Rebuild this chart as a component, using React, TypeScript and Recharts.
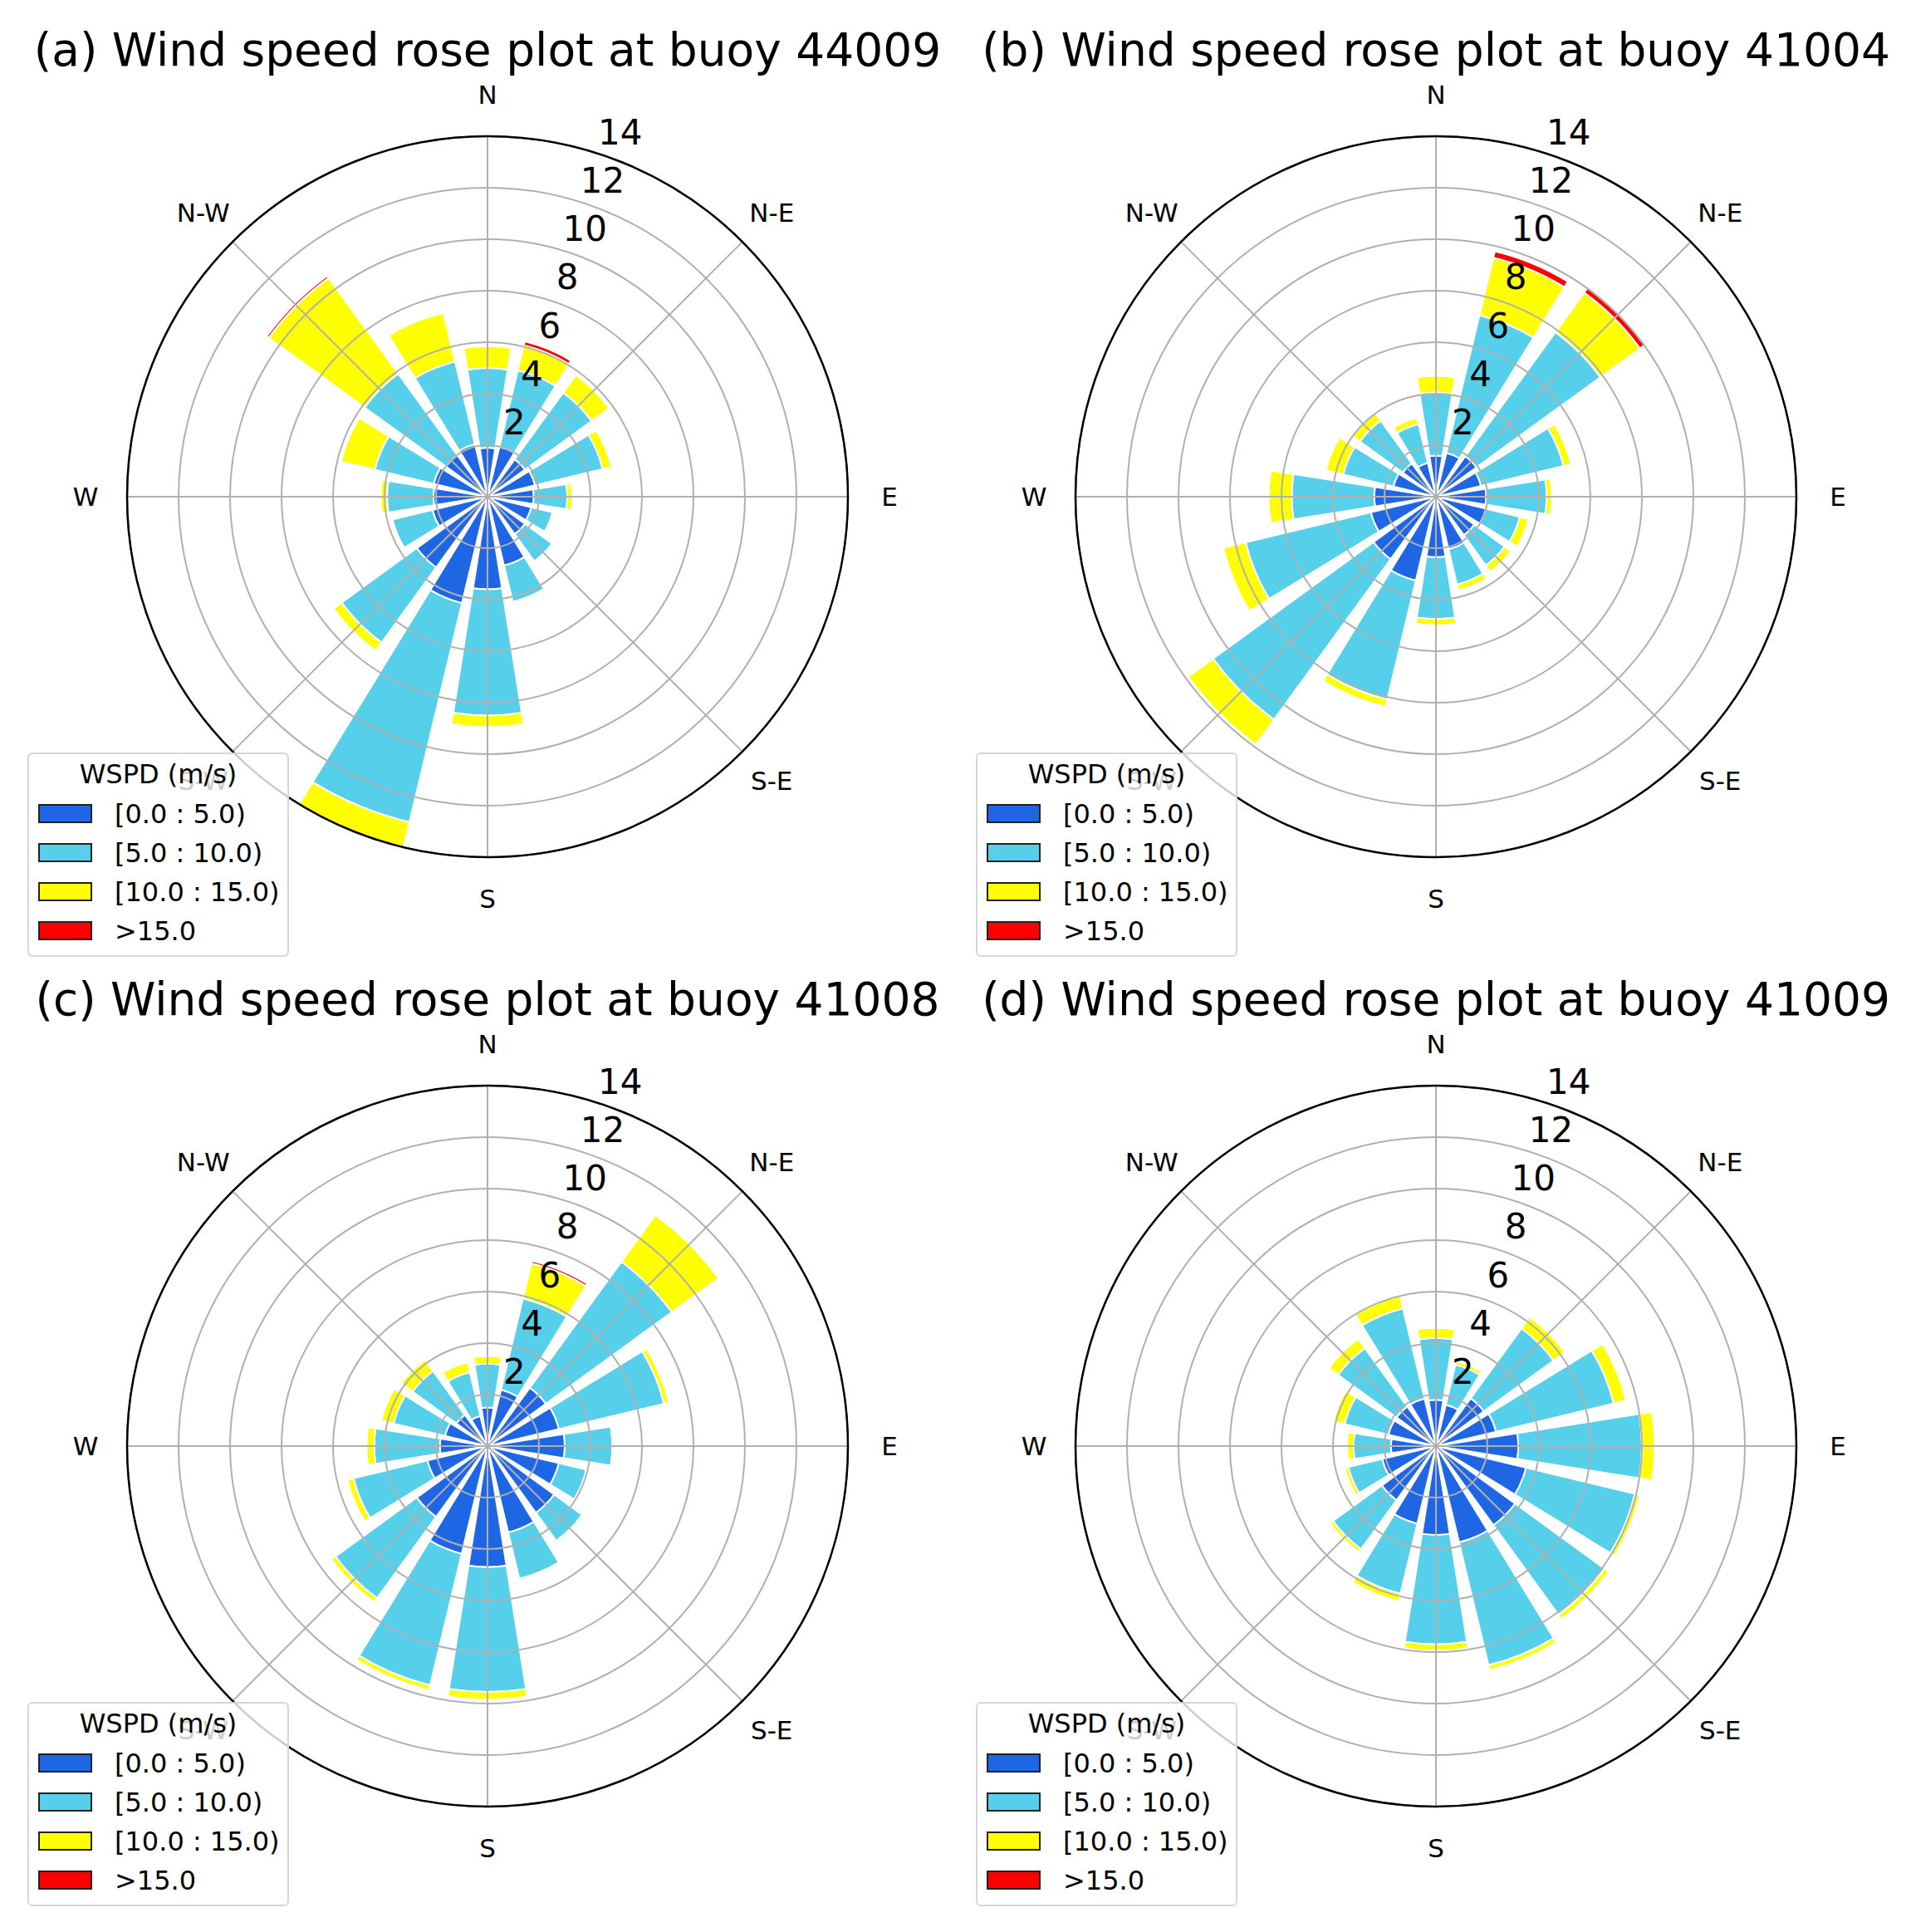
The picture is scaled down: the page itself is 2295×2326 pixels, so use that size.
import {
  PolarAngleAxis,
  PolarGrid,
  PolarRadiusAxis,
  RadialBar,
  RadialBarChart,
} from 'recharts'

/** 16 compass sectors, clockwise from north */
const DIRS = ['N', 'NNE', 'NE', 'ENE', 'E', 'ESE', 'SE', 'SSE', 'S', 'SSW', 'SW', 'WSW', 'W', 'WNW', 'NW', 'NNW']
const COMPASS_LABELS: Record<string, string> = {
  N: 'N', NE: 'N-E', E: 'E', SE: 'S-E', S: 'S', SW: 'S-W', W: 'W', NW: 'N-W',
}
const MAIN_DIRS = ['N', 'NE', 'E', 'SE', 'S', 'SW', 'W', 'NW']
const RADIUS_TICKS = [2, 4, 6, 8, 10, 12, 14]

const BIN_KEYS = ['b0', 'b1', 'b2', 'b3']
const BIN_LABELS = ['[0.0 : 5.0)', '[5.0 : 10.0)', '[10.0 : 15.0)', '>15.0']
const BIN_COLORS = ['#1f66e5', '#56cfea', '#ffff00', '#ff0000']

// (a) buoy 44009, frequency (%) per speed bin
const A_0_5 = [1.9, 2.0, 1.8, 1.9, 1.8, 1.75, 1.8, 2.75, 3.6, 4.25, 3.4, 2.2, 2.1, 2.15, 2.0, 2.1]
const A_5_10 = [3.1, 3.05, 3.2, 2.7, 1.3, 0.85, 1.3, 1.45, 4.9, 8.75, 3.6, 1.6, 1.8, 2.35, 3.9, 3.3]
const A_10_15 = [0.85, 1.0, 0.85, 0.35, 0.2, 0, 0, 0, 0.45, 1.0, 0.4, 0, 0.25, 1.35, 4.6, 1.95]
const A_15 = [0, 0.15, 0, 0, 0, 0, 0, 0, 0, 0, 0, 0, 0, 0, 0.1, 0]

// (b) buoy 41004
const B_0_5 = [1.6, 1.75, 1.95, 1.8, 1.95, 2.0, 1.85, 2.1, 2.35, 3.35, 3.0, 2.6, 2.4, 1.7, 1.6, 1.35]
const B_5_10 = [2.45, 5.5, 5.95, 3.3, 2.35, 1.35, 1.45, 1.4, 2.4, 4.75, 7.7, 5.0, 3.2, 2.0, 2.05, 1.55]
const B_10_15 = [0.65, 2.3, 1.9, 0.3, 0.2, 0.35, 0.3, 0.25, 0.25, 0.3, 1.2, 0.9, 0.9, 0.7, 0.35, 0.25]
const B_15 = [0, 0.25, 0.25, 0, 0, 0, 0, 0, 0, 0, 0, 0, 0, 0, 0, 0]

// (c) buoy 41008
const C_0_5 = [1.5, 2.25, 2.8, 2.85, 3.0, 2.85, 3.2, 3.45, 4.7, 4.3, 3.4, 2.4, 1.85, 1.7, 1.5, 1.2]
const C_5_10 = [1.7, 3.65, 6.05, 4.2, 1.85, 1.1, 1.35, 1.85, 4.85, 5.25, 3.9, 2.95, 2.55, 2.05, 2.1, 1.75]
const C_10_15 = [0.3, 1.4, 2.25, 0.2, 0, 0, 0, 0, 0.3, 0.2, 0.2, 0.25, 0.3, 0.5, 0.55, 0.4]
const C_15 = [0, 0.1, 0, 0, 0, 0, 0, 0, 0, 0, 0, 0, 0, 0, 0, 0]

// (d) buoy 41009
const D_0_5 = [1.8, 1.65, 2.3, 2.4, 3.2, 3.6, 3.8, 3.85, 3.45, 3.1, 2.6, 2.15, 1.75, 1.9, 1.9, 1.9]
const D_5_10 = [2.4, 1.6, 3.35, 4.7, 4.8, 4.35, 4.3, 4.9, 4.25, 2.8, 2.35, 1.35, 1.45, 1.75, 2.8, 3.6]
const D_10_15 = [0.4, 0.15, 0.55, 0.5, 0.5, 0.2, 0.2, 0.2, 0.25, 0.3, 0.15, 0.15, 0.25, 0.45, 0.45, 0.5]
const D_15 = [0, 0, 0, 0, 0, 0, 0, 0, 0, 0, 0, 0, 0, 0, 0, 0]

const PANEL_W = 1142
const PANEL_H = 1143
const CX = 587
const CY = 598
const OUTER_R = 434
const FONT = '"DejaVu Sans", sans-serif'

/** half a sector: bars are centred on their bearing */
const HALF_SECTOR = 180 / DIRS.length
const RAD = Math.PI / 180

function buildRows(bins: number[][]) {
  return DIRS.map((dir, i) => ({
    dir,
    b0: bins[0][i],
    b1: bins[1][i],
    b2: bins[2][i],
    b3: bins[3][i],
  }))
}

const PANELS = [
  { title: '(a) Wind speed rose plot at buoy 44009', rows: buildRows([A_0_5, A_5_10, A_10_15, A_15]) },
  { title: '(b) Wind speed rose plot at buoy 41004', rows: buildRows([B_0_5, B_5_10, B_10_15, B_15]) },
  { title: '(c) Wind speed rose plot at buoy 41008', rows: buildRows([C_0_5, C_5_10, C_10_15, C_15]) },
  { title: '(d) Wind speed rose plot at buoy 41009', rows: buildRows([D_0_5, D_5_10, D_10_15, D_15]) },
]

/** radial grid lines only every 45° like the original */
const GRID_ANGLES = MAIN_DIRS.map((d) => 90 - DIRS.indexOf(d) * 2 * HALF_SECTOR)

/** the band axis puts ticks on the sector edge; move the name to the sector centre */
function DirTick(props: any) {
  const lab = COMPASS_LABELS[props.payload?.value]
  if (!lab) return <g />
  const r = Math.hypot(props.x - CX, props.y - CY)
  const a = (props.payload.coordinate + HALF_SECTOR) * RAD
  return (
    <text
      x={CX + r * Math.cos(a)}
      y={CY - r * Math.sin(a)}
      textAnchor="middle"
      dominantBaseline="central"
      fontSize={31}
      fontFamily={FONT}
      fill="#000"
    >
      {lab}
    </text>
  )
}

const R_LABEL_ANGLE = 70
function RadiusTick(props: any) {
  const x = props.x + 33 * Math.cos(R_LABEL_ANGLE * RAD)
  const y = props.y - 33 * Math.sin(R_LABEL_ANGLE * RAD)
  return (
    <text x={x} y={y} textAnchor="middle" dominantBaseline="central" fontSize={42} fontFamily={FONT} fill="#000">
      {props.payload?.value}
    </text>
  )
}

function LegendBox() {
  return (
    <div
      style={{
        position: 'absolute',
        left: 33,
        top: 906,
        width: 311,
        height: 242,
        border: '2px solid #d6d6d6',
        borderRadius: 6,
        background: 'rgba(255,255,255,0.8)',
        fontFamily: FONT,
        color: '#000',
      }}
    >
      <div style={{ position: 'absolute', left: 0, width: 311, top: 8, fontSize: 32, lineHeight: '32px', textAlign: 'center' }}>
        WSPD (m/s)
      </div>
      {BIN_LABELS.map((lab, i) => (
        <div key={lab}>
          <div
            style={{
              position: 'absolute',
              left: 11,
              top: 60 + i * 47,
              width: 61,
              height: 19,
              background: BIN_COLORS[i],
              border: '2px solid #222',
            }}
          />
          <div style={{ position: 'absolute', left: 103, top: 56 + i * 47, fontSize: 32, lineHeight: '32px', whiteSpace: 'nowrap' }}>
            {lab}
          </div>
        </div>
      ))}
    </div>
  )
}

function RosePanel({ title, rows, left, top }: { title: string; rows: any[]; left: number; top: number }) {
  return (
    <div style={{ position: 'absolute', left, top, width: PANEL_W, height: PANEL_H }}>
      <RadialBarChart
        width={PANEL_W}
        height={PANEL_H}
        data={rows}
        layout="centric"
        cx={CX}
        cy={CY}
        innerRadius={0}
        outerRadius={OUTER_R}
        startAngle={90 - HALF_SECTOR}
        endAngle={90 - HALF_SECTOR - 360}
        barCategoryGap="10%"
        margin={{ top: 0, right: 0, bottom: 0, left: 0 }}
      >
        <PolarAngleAxis
          type="category"
          dataKey="dir"
          axisLineType="circle"
          axisLine={{ stroke: '#000', strokeWidth: 2.5 }}
          tickLine={false}
          tickSize={50}
          tick={DirTick}
        />
        <PolarRadiusAxis
          type="number"
          domain={[0, 14]}
          ticks={RADIUS_TICKS}
          angle={R_LABEL_ANGLE}
          axisLine={false}
          tickLine={false}
          tick={RadiusTick}
        />
        {BIN_KEYS.map((k, i) => (
          <RadialBar
            key={k}
            dataKey={k}
            stackId="wspd"
            fill={BIN_COLORS[i]}
            stroke="#ffffff"
            strokeWidth={2}
            isAnimationActive={false}
          />
        ))}
        {/* grid is drawn over the bars, as in the matplotlib original */}
        <PolarGrid gridType="circle" polarAngles={GRID_ANGLES} stroke="#b0b0b0" strokeWidth={2} zIndex={400} />
      </RadialBarChart>
      <div
        style={{
          position: 'absolute',
          left: 0,
          width: CX * 2,
          top: 33,
          fontFamily: FONT,
          fontSize: 55,
          lineHeight: '55px',
          textAlign: 'center',
          whiteSpace: 'nowrap',
          color: '#000',
        }}
      >
        {title}
      </div>
      <LegendBox />
    </div>
  )
}

export default function App() {
  return (
    <div style={{ position: 'relative', width: 2295, height: 2326, background: '#fff' }}>
      <style>{'body{margin:0;background:#fff}'}</style>
      {PANELS.map((p, i) => (
        <RosePanel key={p.title} title={p.title} rows={p.rows} left={(i % 2) * PANEL_W} top={Math.floor(i / 2) * PANEL_H} />
      ))}
    </div>
  )
}
